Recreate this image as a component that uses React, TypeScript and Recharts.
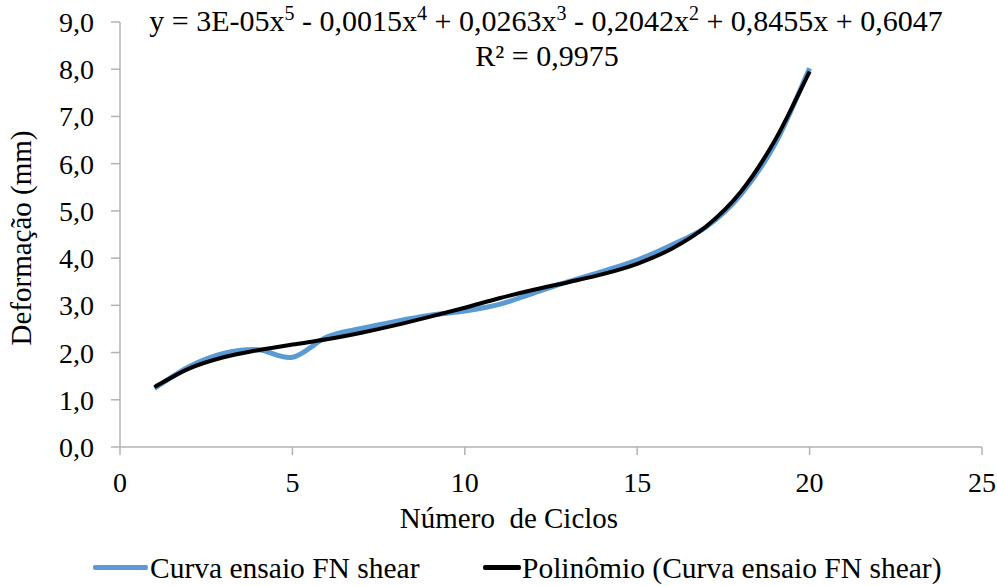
import React from "react";
import { LineChart, Line, XAxis, YAxis, Legend, Customized } from "recharts";

// Número de ciclos (eixo x)
const ciclos = [1, 2, 3, 4, 5, 6, 7, 8, 9, 10, 11, 12, 13, 14, 15, 16, 17, 18, 19, 20];
// Deformação medida (mm)
const curvaEnsaio = [
  1.24, 1.7, 1.98, 2.06, 1.9, 2.33, 2.51, 2.66, 2.79, 2.88, 3.02, 3.26, 3.5, 3.72, 3.96, 4.28,
  4.66, 5.34, 6.42, 8.02,
];
// Linha de tendência polinomial
const polinomio = [
  1.27, 1.66, 1.9, 2.05, 2.17, 2.28, 2.42, 2.58, 2.76, 2.95, 3.15, 3.33, 3.49, 3.66, 3.88, 4.2,
  4.67, 5.4, 6.5, 7.95,
];
const xTicks = [0, 5, 10, 15, 20, 25];
const yTicks = [0, 1, 2, 3, 4, 5, 6, 7, 8, 9];

const FONT = '"Liberation Serif", "Times New Roman", serif';
const AXIS = "#b3b3b3";
const BLUE = "#5b9bd5";

const fmt = (v: number) => v.toFixed(1).replace(".", ",");

const data = ciclos.map((c, i) => ({
  ciclo: c,
  curva: curvaEnsaio[i],
  poli: polinomio[i],
}));

// Excel-like smoothed line (Catmull-Rom through the points)
const smoothCurve = (context: any) => {
  let pts: [number, number][] = [];
  return {
    areaStart() {},
    areaEnd() {},
    lineStart() {
      pts = [];
    },
    lineEnd() {
      if (!pts.length) return;
      context.moveTo(pts[0][0], pts[0][1]);
      const t = 1 / 6;
      for (let i = 0; i < pts.length - 1; i++) {
        const p0 = pts[i - 1] ?? pts[i];
        const p1 = pts[i];
        const p2 = pts[i + 1];
        const p3 = pts[i + 2] ?? p2;
        context.bezierCurveTo(
          p1[0] + (p2[0] - p0[0]) * t,
          p1[1] + (p2[1] - p0[1]) * t,
          p2[0] - (p3[0] - p1[0]) * t,
          p2[1] - (p3[1] - p1[1]) * t,
          p2[0],
          p2[1],
        );
      }
    },
    point(x: number, y: number) {
      pts.push([+x, +y]);
    },
  };
};

const XTick = ({ x, y, payload }: any) => (
  <text x={x} y={y + 35} textAnchor="middle" fontFamily={FONT} fontSize={28} fill="#000">
    {payload.value}
  </text>
);

const YTick = ({ x, y, payload }: any) => (
  <text x={x - 15} y={y + 10} textAnchor="end" fontFamily={FONT} fontSize={28} fill="#000">
    {fmt(payload.value)}
  </text>
);

// equation, R² and axis titles
const Annotations = () => (
  <g fontFamily={FONT} fill="#000">
    <text x={546} y={31} textAnchor="middle" fontSize={30}>
      {"y = 3E-05x"}
      <tspan dy={-11} fontSize={20}>5</tspan>
      <tspan dy={11}>{" - 0,0015x"}</tspan>
      <tspan dy={-11} fontSize={20}>4</tspan>
      <tspan dy={11}>{" + 0,0263x"}</tspan>
      <tspan dy={-11} fontSize={20}>3</tspan>
      <tspan dy={11}>{" - 0,2042x"}</tspan>
      <tspan dy={-11} fontSize={20}>2</tspan>
      <tspan dy={11}>{" + 0,8455x + 0,6047"}</tspan>
    </text>
    <text x={547} y={66} textAnchor="middle" fontSize={30}>
      R² = 0,9975
    </text>
    <text x={509} y={528} textAnchor="middle" fontSize={29} style={{ whiteSpace: "pre" }}>
      {"Número  de Ciclos"}
    </text>
    <text transform="translate(31,238) rotate(-90)" textAnchor="middle" fontSize={29}>
      Deformação (mm)
    </text>
  </g>
);

const legendPos = [
  { line: 93, width: 55, text: 150 },
  { line: 483, width: 38, text: 522 },
];

const LegendContent = ({ payload }: any) => (
  <div style={{ position: "relative", width: 997, height: 42, fontFamily: FONT, fontSize: 29.5 }}>
    {(payload ?? []).map((p: any, i: number) => (
      <React.Fragment key={p.value}>
        <div
          style={{
            position: "absolute",
            left: legendPos[i].line,
            top: 21,
            width: legendPos[i].width,
            height: 5,
            borderRadius: 2,
            background: p.color,
          }}
        />
        <span
          style={{
            position: "absolute",
            left: legendPos[i].text,
            top: 3,
            lineHeight: "42px",
            whiteSpace: "nowrap",
            color: "#000",
          }}
        >
          {p.value}
        </span>
      </React.Fragment>
    ))}
  </div>
);

export default function App() {
  return (
    <div style={{ position: "absolute", left: 0, top: 0, background: "#fff" }}>
      <LineChart
        width={997}
        height={586}
        data={data}
        margin={{ top: 22, right: 15, left: 0, bottom: 0 }}
      >
        <XAxis
          type="number"
          dataKey="ciclo"
          domain={[0, 25]}
          ticks={xTicks}
          height={97}
          tickSize={8}
          axisLine={{ stroke: AXIS, strokeWidth: 1.5 }}
          tickLine={{ stroke: AXIS, strokeWidth: 1.5 }}
          tick={<XTick />}
        />
        <YAxis
          type="number"
          domain={[0, 9]}
          ticks={yTicks}
          width={120}
          tickSize={9}
          interval={0}
          axisLine={{ stroke: AXIS, strokeWidth: 1.5 }}
          tickLine={{ stroke: AXIS, strokeWidth: 1.5 }}
          tick={<YTick />}
        />
        <Legend
          verticalAlign="bottom"
          content={<LegendContent />}
          wrapperStyle={{ position: "absolute", left: 0, top: 544, width: 997, height: 42 }}
        />
        <Line
          type={smoothCurve as any}
          dataKey="curva"
          name="Curva ensaio FN shear"
          stroke={BLUE}
          strokeWidth={5}
          dot={false}
          activeDot={false}
          isAnimationActive={false}
        />
        <Line
          type={smoothCurve as any}
          dataKey="poli"
          name="Polinômio (Curva ensaio FN shear)"
          stroke="#000"
          strokeWidth={4}
          dot={false}
          activeDot={false}
          isAnimationActive={false}
        />
        <Customized component={Annotations} />
      </LineChart>
    </div>
  );
}
